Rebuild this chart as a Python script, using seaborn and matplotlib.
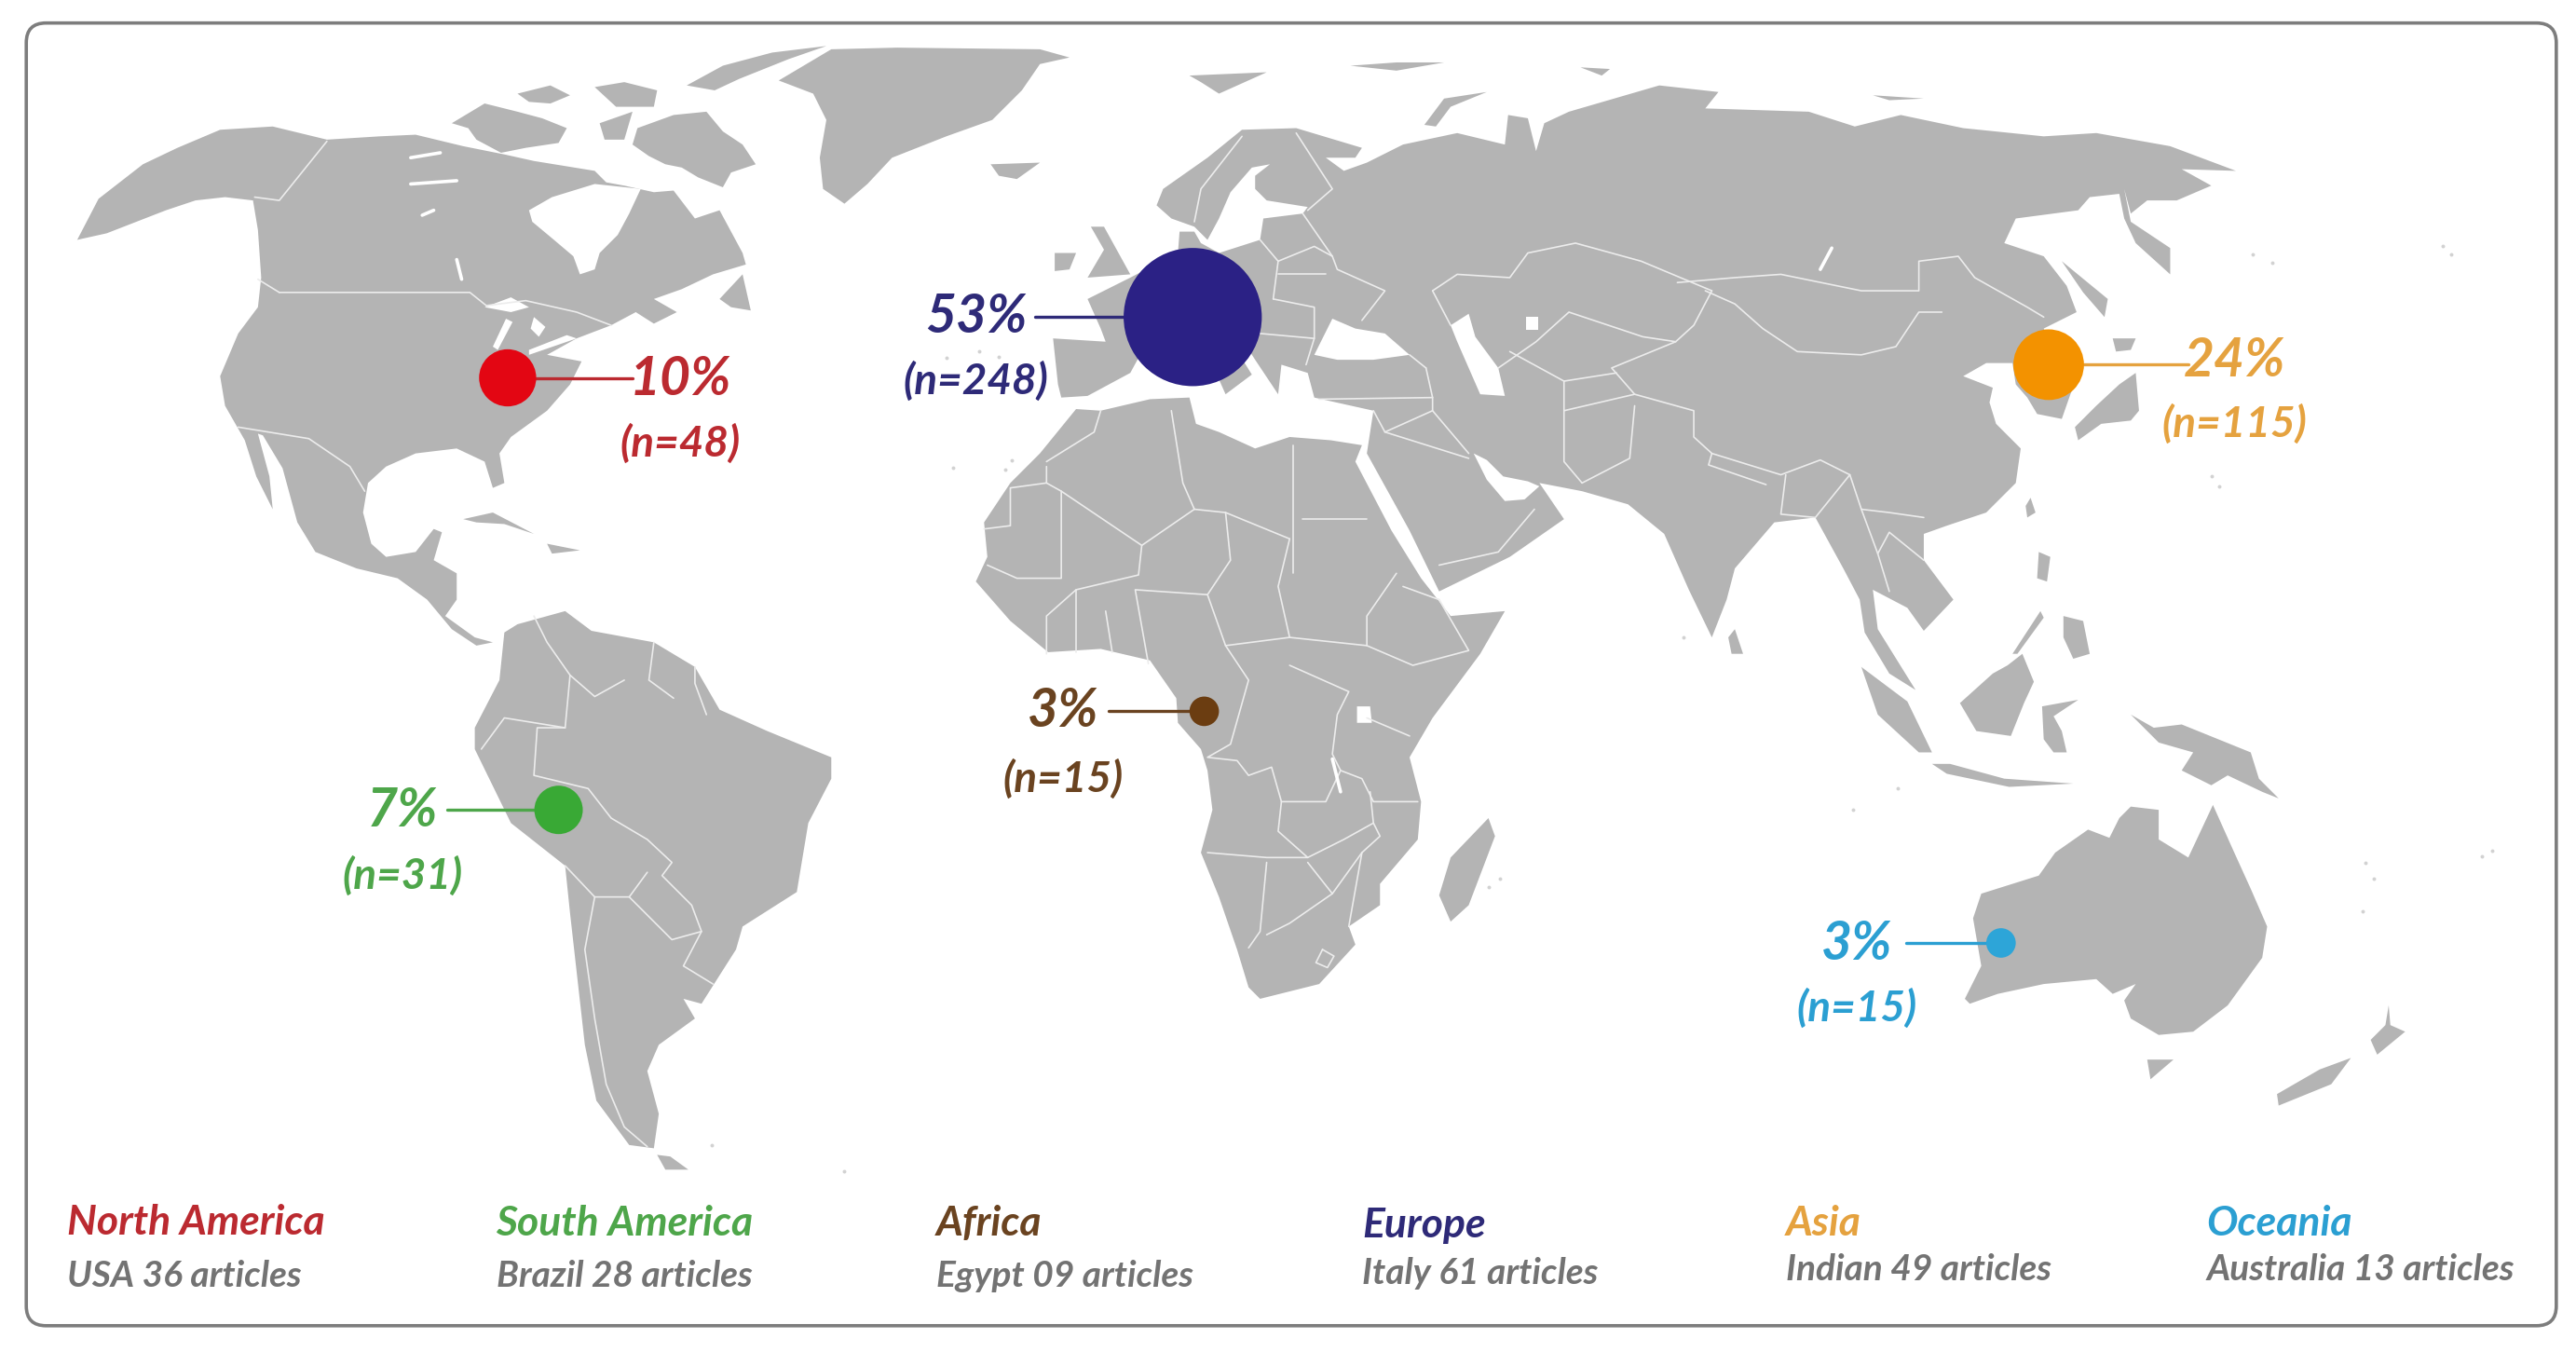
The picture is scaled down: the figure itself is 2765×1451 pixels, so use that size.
import seaborn as sns
import matplotlib.pyplot as plt
import pandas as pd
from matplotlib.patches import FancyBboxPatch

# map is traced in a 1568 x 823 grid, y going down
regions = ['North America', 'South America', 'Africa', 'Europe', 'Asia', 'Oceania']
percents = ['10%', '7%', '3%', '53%', '24%', '3%']
counts = ['(n=48)', '(n=31)', '(n=15)', '(n=248)', '(n=115)', '(n=15)']
top_country = ['USA 36 articles', 'Brazil 28 articles', 'Egypt 09 articles',
               'Italy 61 articles', 'Indian 49 articles', 'Australia 13 articles']
bubble_x = [309, 340, 733, 726, 1247, 1218]
bubble_y = [230, 493, 433, 193, 222, 574]

north_america = [(47, 146), (60, 121), (87, 100), (108, 90), (134, 79), (166, 77), (199, 85), (231, 83),
                 (253, 82), (282, 89), (307, 94), (325, 98), (362, 104), (369, 111), (380, 113), (398, 117),
                 (410, 116), (423, 133), (438, 128), (452, 154), (454, 161), (434, 167), (415, 176), (398, 182),
                 (412, 190), (398, 197), (387, 190), (372, 198), (351, 206), (333, 216), (354, 220), (347, 234),
                 (333, 250), (311, 266), (304, 276), (307, 294), (300, 297), (295, 281), (278, 273), (253, 276),
                 (235, 284), (224, 294), (221, 312), (226, 331), (235, 339), (253, 336), (264, 322), (269, 324),
                 (264, 341), (278, 349), (278, 365), (271, 375), (289, 388), (300, 391), (290, 393), (275, 383),
                 (260, 365), (242, 352), (217, 346), (192, 336), (181, 318), (172, 285), (160, 265), (157, 264),
                 (164, 290), (166, 310), (156, 290), (149, 268), (137, 247), (134, 229), (145, 203), (157, 187),
                 (159, 169), (157, 140), (154, 122), (137, 120), (119, 122), (101, 128), (83, 135), (65, 142)]
south_america = [(307, 385), (315, 380), (344, 372), (360, 384), (398, 391), (423, 406), (438, 432), (467, 445),
                 (506, 461), (506, 474), (492, 501), (485, 543), (452, 564), (448, 578), (427, 611), (416, 608),
                 (423, 620), (401, 636), (394, 652), (401, 678), (398, 699), (383, 697), (363, 670), (356, 636),
                 (347, 556), (344, 527), (311, 501), (289, 456), (289, 443), (304, 414)]
africa = [(655, 249), (670, 250), (700, 243), (724, 242), (728, 258), (742, 263), (764, 273), (785, 266), (810, 268),
          (829, 271), (825, 281), (847, 323), (865, 352), (883, 375), (916, 372), (901, 398), (872, 437), (858, 461),
          (865, 488), (863, 511), (840, 538), (840, 551), (821, 564), (825, 575), (803, 599), (767, 608), (760, 601),
          (753, 578), (742, 546), (731, 519), (738, 493), (735, 469), (731, 456), (717, 440), (716, 425), (700, 402),
          (670, 395), (638, 397), (615, 378), (594, 354), (601, 339), (599, 318), (615, 294), (633, 276)]
eurasia = [(644, 234), (641, 206), (673, 208), (670, 200), (662, 182), (688, 169), (717, 154), (718, 141), (727, 141),
           (731, 148), (742, 154), (767, 146), (769, 133), (793, 130), (796, 126), (771, 122), (764, 115), (764, 107),
           (773, 100), (762, 102), (749, 117), (742, 133), (735, 146), (727, 138), (713, 133), (704, 125), (708, 115),
           (735, 96), (756, 79), (789, 78), (829, 90), (825, 96), (807, 96), (818, 104), (832, 99), (854, 88), (887, 81),
           (916, 88), (918, 70), (930, 72), (935, 92), (940, 75), (955, 68), (1010, 52), (1046, 56), (1038, 66),
           (1101, 68), (1129, 77), (1157, 70), (1195, 78), (1244, 83), (1276, 81), (1321, 89), (1361, 104), (1328, 103),
           (1346, 113), (1325, 122), (1307, 122), (1297, 130), (1293, 115), (1297, 135), (1321, 151), (1321, 167),
           (1300, 148), (1293, 133), (1290, 118), (1272, 120), (1265, 128), (1227, 133), (1220, 148), (1244, 156),
           (1258, 174), (1264, 190), (1244, 200), (1262, 235), (1255, 255), (1240, 252), (1234, 242), (1227, 234),
           (1225, 221), (1209, 221), (1195, 229), (1213, 236), (1211, 245), (1215, 258), (1230, 273), (1227, 294),
           (1209, 312), (1185, 320), (1171, 325), (1171, 341), (1189, 365), (1171, 384), (1161, 370), (1140, 359),
           (1143, 383), (1166, 420), (1150, 410), (1135, 385), (1132, 365), (1122, 346), (1105, 315), (1080, 318),
           (1056, 346), (1051, 365), (1042, 388), (1028, 359), (1013, 325), (991, 307), (963, 299), (937, 294),
           (952, 316), (919, 339), (876, 360), (858, 323), (832, 276), (836, 250), (800, 242), (796, 227), (780, 222),
           (778, 240), (764, 219), (755, 205), (752, 212), (762, 228), (746, 240), (738, 222), (727, 208), (700, 205),
           (688, 227), (662, 241), (646, 242)]
greenland = [(474, 49), (506, 30), (546, 29), (633, 30), (651, 35), (633, 39), (622, 55), (604, 73), (576, 83),
             (543, 96), (528, 112), (514, 124), (501, 115), (499, 96), (503, 73), (495, 57)]
australia = [(1297, 491), (1314, 493), (1314, 511), (1332, 522), (1347, 490), (1360, 519), (1370, 541), (1380, 564),
             (1377, 583), (1356, 612), (1335, 628), (1314, 630), (1297, 620), (1293, 609), (1300, 599), (1286, 605),
             (1276, 596), (1244, 599), (1216, 605), (1199, 611), (1196, 608), (1206, 588), (1201, 559), (1206, 544),
             (1241, 533), (1251, 519), (1271, 505), (1284, 510), (1290, 498)]
islands = [
    [(388, 78), (410, 70), (430, 68), (440, 80), (452, 88), (460, 100), (445, 105), (440, 114), (425, 108), (415, 102), (405, 100), (395, 95), (385, 88)],
    [(275, 75), (295, 63), (315, 68), (330, 72), (345, 78), (340, 87), (320, 90), (305, 93), (290, 85), (285, 78)],
    [(315, 57), (335, 52), (347, 58), (335, 63), (322, 62)],
    [(418, 52), (440, 40), (470, 32), (503, 28), (480, 36), (450, 48), (435, 55)],
    [(362, 53), (380, 50), (400, 55), (398, 65), (375, 65)],
    [(365, 75), (385, 68), (380, 85), (368, 85)],
    [(603, 100), (633, 99), (619, 109), (608, 107)],
    [(724, 46), (771, 44), (742, 57), (731, 50)],
    [(664, 138), (672, 138), (688, 167), (662, 169), (672, 152)],
    [(642, 154), (655, 154), (651, 164), (642, 165)],
    [(867, 76), (879, 60), (905, 56), (883, 65), (874, 77)],
    [(1056, 383), (1061, 398), (1054, 398), (1052, 388)],
    [(1300, 227), (1302, 250), (1297, 256), (1279, 258), (1265, 268), (1263, 260), (1276, 247), (1290, 234)],
    [(1286, 206), (1300, 206), (1297, 213), (1288, 214)],
    [(1255, 159), (1283, 182), (1281, 193), (1268, 178)],
    [(1236, 303), (1239, 312), (1234, 315), (1233, 308)],
    [(1241, 336), (1248, 339), (1246, 354), (1240, 352)],
    [(1256, 375), (1268, 378), (1272, 398), (1262, 401), (1256, 388)],
    [(1242, 372), (1225, 398), (1228, 398), (1244, 376)],
    [(1231, 398), (1238, 415), (1232, 428), (1224, 448), (1203, 445), (1193, 428), (1213, 410), (1222, 405)],
    [(1133, 406), (1161, 427), (1176, 458), (1168, 458), (1143, 435)],
    [(1176, 465), (1187, 465), (1220, 474), (1262, 477), (1223, 479), (1185, 471)],
    [(1243, 430), (1265, 426), (1250, 436), (1255, 445), (1258, 458), (1250, 458), (1244, 450)],
    [(1297, 435), (1311, 443), (1328, 441), (1370, 458), (1375, 474), (1387, 486), (1377, 482), (1356, 472), (1346, 478), (1328, 469), (1335, 458), (1314, 452)],
    [(1454, 612), (1455, 624), (1464, 628), (1447, 642), (1443, 633), (1452, 624)],
    [(1431, 644), (1419, 660), (1387, 673), (1386, 666), (1412, 651)],
    [(1307, 645), (1323, 645), (1309, 657)],
    [(906, 498), (910, 509), (894, 551), (883, 561), (876, 545), (883, 522)],
    [(400, 703), (408, 704), (419, 712), (405, 712)],
    [(282, 316), (300, 312), (325, 325), (307, 319), (290, 318)],
    [(333, 331), (353, 335), (336, 337)],
    [(438, 182), (452, 167), (457, 189), (445, 187)],
    [(822, 40), (850, 38), (879, 38), (850, 43)],
    [(962, 41), (980, 42), (975, 46)],
    [(1140, 58), (1171, 60), (1150, 61)],
]
water = [
    [(322, 128), (336, 120), (362, 112), (390, 115), (383, 130), (376, 143), (365, 154), (362, 164), (353, 167), (349, 156), (336, 145), (324, 135)],
    [(800, 216), (811, 194), (825, 200), (843, 203), (858, 216), (836, 219), (814, 219)],
    [(883, 198), (894, 191), (898, 205), (912, 224), (916, 241), (901, 240), (894, 224), (887, 208)],
    [(897, 276), (905, 280), (915, 290), (930, 293), (937, 296), (928, 304), (916, 305), (905, 292)],
    [(295, 187), (311, 181), (322, 187), (311, 190)],
    [(308, 194), (312, 196), (303, 213), (300, 211)],
    [(325, 193), (332, 199), (328, 205), (323, 200)],
    [(322, 216), (351, 206), (345, 204), (322, 213)],
    [(929, 193), (936, 193), (936, 201), (929, 201)],
    [(826, 430), (834, 430), (835, 440), (826, 440)],
]
lakes = [[(250, 112), (278, 110)], [(250, 96), (268, 93)], [(278, 158), (281, 170)], [(257, 131), (264, 128)],
         [(1115, 151), (1108, 164)], [(811, 462), (816, 482)]]
borders = [
    [(170, 178), (286, 178), (296, 186)], [(199, 86), (170, 122), (155, 120)], [(157, 170), (170, 178)],
    [(145, 260), (188, 267), (213, 284), (222, 299)], [(372, 198), (351, 190), (320, 183), (296, 186)],
    [(325, 375), (333, 391), (347, 411), (344, 443), (327, 443), (325, 472), (358, 480), (372, 498), (394, 511), (409, 525), (403, 533), (421, 551), (427, 567), (416, 588), (434, 599)],
    [(362, 546), (356, 578), (362, 620), (369, 660), (380, 686), (394, 698)], [(344, 527), (362, 546), (383, 546), (394, 531)],
    [(383, 546), (409, 572), (427, 567)], [(293, 456), (307, 437), (344, 443)], [(380, 414), (362, 424), (347, 411)],
    [(423, 406), (423, 416), (430, 435)], [(398, 391), (395, 414), (410, 425)],
    [(670, 250), (666, 263), (637, 281)], [(637, 284), (637, 294), (615, 297), (615, 320), (599, 322)],
    [(637, 294), (646, 299), (646, 352), (619, 352), (601, 344)], [(646, 299), (695, 332), (727, 310)],
    [(713, 250), (720, 294), (727, 310), (746, 312), (785, 328)], [(787, 271), (787, 349)], [(793, 316), (832, 316)],
    [(695, 332), (693, 350), (655, 359), (637, 375), (637, 398)], [(746, 312), (749, 341), (735, 362), (691, 359), (699, 404)],
    [(673, 372), (677, 397)], [(655, 359), (655, 397)], [(785, 328), (778, 357), (785, 388), (832, 393), (832, 375), (850, 349)],
    [(876, 365), (854, 357)], [(832, 393), (860, 405), (894, 396), (876, 365)], [(746, 393), (785, 388)],
    [(735, 362), (746, 393), (760, 414), (749, 453), (735, 461), (753, 463), (760, 472), (774, 467), (780, 488), (807, 488), (816, 469), (811, 459), (814, 435), (821, 421), (785, 405)],
    [(832, 437), (858, 448)], [(816, 469), (829, 474), (836, 488), (863, 488)], [(735, 519), (771, 522), (796, 522), (778, 506), (780, 488)],
    [(796, 522), (818, 511), (836, 501), (834, 482)], [(836, 501), (840, 509), (829, 519), (821, 564)], [(771, 525), (767, 567), (760, 577)],
    [(796, 525), (811, 544), (785, 562), (771, 569)], [(811, 544), (829, 519)], [(805, 578), (801, 586), (808, 589), (812, 582), (805, 578)],
    [(789, 81), (811, 115), (796, 128)], [(756, 83), (731, 115), (727, 135)], [(793, 130), (811, 156), (814, 164), (843, 177), (829, 195)],
    [(767, 146), (778, 159), (775, 182)], [(778, 167), (807, 167)], [(775, 182), (800, 187), (800, 206)], [(767, 203), (800, 206), (795, 222)],
    [(778, 159), (800, 150), (811, 156)], [(872, 177), (887, 167), (919, 169), (930, 154), (959, 148), (999, 159), (1042, 177)], [(872, 177), (883, 198)],
    [(1021, 172), (1056, 169), (1084, 167), (1133, 177), (1168, 177), (1168, 159), (1192, 156), (1202, 169), (1234, 187), (1244, 193)],
    [(1038, 177), (1056, 185), (1073, 200), (1094, 214), (1133, 216), (1154, 211), (1168, 190), (1182, 190)],
    [(1042, 177), (1031, 198), (1020, 208), (981, 224), (995, 240), (1031, 250), (1031, 266), (1042, 276), (1084, 289), (1108, 280), (1126, 289), (1133, 310), (1150, 312), (1171, 315)],
    [(995, 247), (992, 279), (963, 294)], [(872, 250), (894, 276)], [(952, 250), (952, 281), (963, 294)],
    [(919, 214), (952, 232), (984, 227)], [(952, 232), (952, 250), (995, 240)], [(912, 224), (935, 208), (955, 190), (1000, 205), (1020, 208)],
    [(843, 263), (894, 279)], [(876, 344), (912, 336), (934, 310)], [(868, 224), (872, 242), (803, 243)], [(868, 224), (858, 216)],
    [(872, 242), (872, 250), (843, 263), (836, 250)], [(1133, 310), (1143, 337), (1150, 360)], [(1171, 341), (1150, 324), (1143, 337)],
    [(1087, 289), (1084, 313), (1105, 315), (1126, 289)], [(1042, 276), (1040, 283), (1075, 295)],
]
islet_x = [596, 608, 616, 612, 580, 576, 1025, 1346, 1351, 1383, 1371, 1487, 1492, 1440, 1445, 1511, 1517, 1438, 906, 913, 1155, 1128, 433, 514]
islet_y = [214, 217, 280, 286, 285, 218, 388, 290, 296, 160, 155, 150, 155, 525, 535, 521, 518, 555, 540, 535, 480, 493, 697, 713]

land_color = '#b4b4b4'
text_gray = '#737373'
region_colors = dict(zip(regions, ['#e30613', '#39a935', '#6b3d11', '#2b2185', '#f39200', '#2da5d8']))
text_colors = dict(zip(regions, ['#bb2a30', '#4ea64a', '#6a4320', '#2e2a78', '#e5a23f', '#2b9fd2']))
# bubble areas in points^2
bubble_sizes = dict(zip(regions, [1950, 1400, 520, 11400, 2980, 520]))

sns.set_theme(style='white')
plt.rcParams['font.family'] = ['Lato', 'DejaVu Sans']

fig = plt.figure(figsize=(27.65, 14.51), dpi=100)
ax = fig.add_axes([0, 0, 1, 1])

ax.add_patch(FancyBboxPatch((16, 14), 1540, 793, boxstyle='round,pad=0,rounding_size=12',
                            fc='white', ec='#7d7d7d', lw=2.6, zorder=0))

for poly in [north_america, south_america, africa, eurasia, greenland, australia] + islands:
    ax.fill(*zip(*poly), color=land_color, lw=0, zorder=1)
for poly in water:
    ax.fill(*zip(*poly), color='white', lw=0, zorder=2)
for line in borders:
    ax.plot(*zip(*line), color='#ececec', lw=1.2, zorder=3)
for line in lakes:
    ax.plot(*zip(*line), color='white', lw=2.6, zorder=3)
ax.scatter(islet_x, islet_y, s=8, color='#d2d2d2', lw=0, zorder=1)

df = pd.DataFrame({'region': regions, 'x': bubble_x, 'y': bubble_y})
sns.scatterplot(data=df, x='x', y='y', hue='region', size='region', palette=region_colors,
                sizes=bubble_sizes, linewidth=0, legend=False, zorder=5, ax=ax)
ax.set_xlim(0, 1568)
ax.set_ylim(823, 0)
ax.axis('off')

# label columns and leader lines, in the same order as regions
leader_x = [(325, 385), (272, 326), (675, 725), (630, 685), (1268, 1332), (1160, 1210)]
label_x = [414, 245, 647, 594, 1360, 1130]
pct_y = [231, 494, 433, 193, 220, 575]
n_y = [270, 533, 474, 232, 258, 614]
legend_x = [41, 302, 570, 829, 1087, 1343]
title_y = [744, 745, 745, 746, 745, 745]
sub_y = [777, 777, 777, 775, 773, 773]

for i, region in enumerate(regions):
    col = text_colors[region]
    ax.plot(leader_x[i], [bubble_y[i], bubble_y[i]], color=col, lw=2.4, zorder=4)
    ax.text(label_x[i], pct_y[i], percents[i], color=col, fontsize=41, style='italic', weight='bold',
            ha='center', va='center', zorder=6)
    ax.text(label_x[i], n_y[i], counts[i], color=col, fontsize=33, style='italic', weight='bold',
            ha='center', va='center', zorder=6)
    ax.text(legend_x[i], title_y[i], region, color=col, fontsize=32, style='italic', weight='bold',
            ha='left', va='center', zorder=6)
    ax.text(legend_x[i], sub_y[i], top_country[i], color=text_gray, fontsize=28, style='italic', weight='bold',
            ha='left', va='center', zorder=6)

fig.savefig('out.png', dpi=100, facecolor='white')
